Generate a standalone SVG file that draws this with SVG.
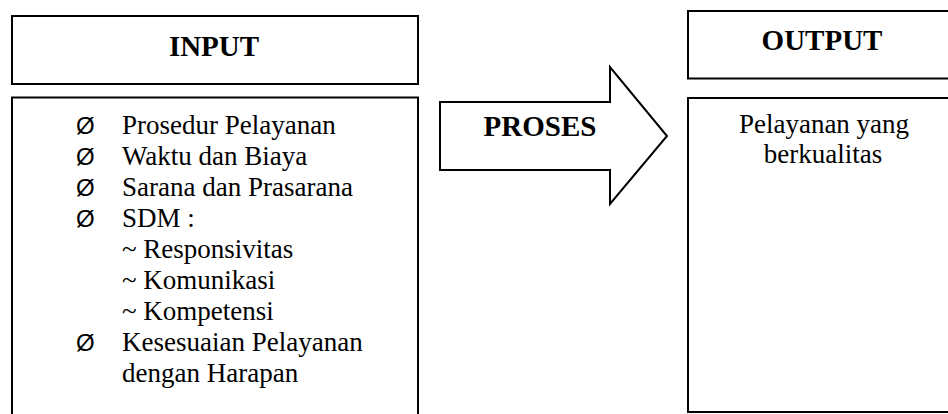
<svg xmlns="http://www.w3.org/2000/svg" width="948" height="414" viewBox="0 0 948 414">
<style>
.box{fill:#fff;stroke:#000;stroke-width:2}
.h{font-family:"Liberation Serif",serif;font-weight:bold;font-size:29px;fill:#000;text-anchor:middle}
.t{font-family:"Liberation Serif",serif;font-size:27px;fill:#000}
.b{font-family:"Liberation Sans",sans-serif;font-size:24px;fill:#000}
.c{text-anchor:middle}
</style>
<rect width="948" height="414" fill="#fff"/>
<g id="input-title">
<rect class="box" x="12" y="16" width="406" height="68"/>
<text class="h" x="214" y="56">INPUT</text>
</g>
<g id="input-list">
<rect class="box" x="12" y="97.5" width="406" height="330"/>
<text class="b" x="76" y="134">Ø</text>
<text class="t" x="122" y="134">Prosedur Pelayanan</text>
<text class="b" x="76" y="165">Ø</text>
<text class="t" x="122" y="165">Waktu dan Biaya</text>
<text class="b" x="76" y="196">Ø</text>
<text class="t" x="122" y="196">Sarana dan Prasarana</text>
<text class="b" x="76" y="227">Ø</text>
<text class="t" x="122" y="227">SDM :</text>
<text class="t" x="122" y="258">~ Responsivitas</text>
<text class="t" x="122" y="289">~ Komunikasi</text>
<text class="t" x="122" y="320">~ Kompetensi</text>
<text class="b" x="76" y="351">Ø</text>
<text class="t" x="122" y="351">Kesesuaian Pelayanan</text>
<text class="t" x="122" y="382">dengan Harapan</text>
</g>
<g id="proses">
<polygon class="box" points="440,102 610,102 610,67 667,136 610,204 610,170 440,170"/>
<text class="h" x="540" y="136">PROSES</text>
</g>
<g id="output-title">
<rect class="box" x="688" y="11" width="280" height="67.5"/>
<text class="h" x="822" y="50">OUTPUT</text>
</g>
<g id="output-body">
<rect class="box" x="688" y="98" width="280" height="314"/>
<text class="t c" x="824" y="133">Pelayanan yang</text>
<text class="t c" x="823" y="163">berkualitas</text>
</g>
<g id="connectors"></g>
</svg>
